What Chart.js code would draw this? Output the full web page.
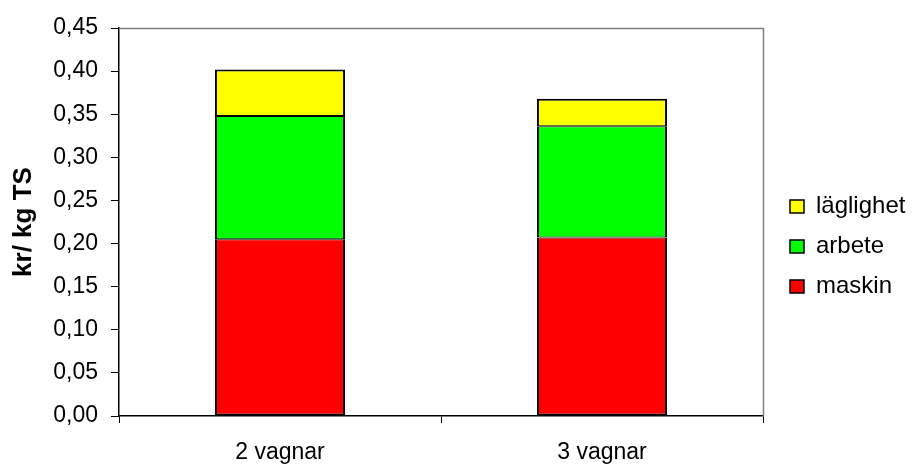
<!DOCTYPE html>
<html>
<head>
<meta charset="utf-8">
<script src="https://cdn.jsdelivr.net/npm/chart.js@4/dist/chart.umd.min.js"></script>
<style>
  html, body { margin: 0; padding: 0; background: #fff; }
  #wrap { width: 912px; height: 465px; }
</style>
</head>
<body>
<div id="wrap"><canvas id="costChart" width="912" height="465"></canvas></div>
<script>
const categories = ['2 vagnar', '3 vagnar'];
const maskin = [0.205, 0.207];
const arbete = [0.143, 0.129];
const laglighet = [0.054, 0.032];
const yTicks = [0, 0.05, 0.1, 0.15, 0.2, 0.25, 0.3, 0.35, 0.4, 0.45];

const fontFamily = 'Arial, "Liberation Sans", sans-serif';
Chart.defaults.font.family = fontFamily;
Chart.defaults.color = '#000';

const barPercentage = 0.404;

// grey frame on top and right of the plot area
const plotFrame = {
  id: 'plotFrame',
  beforeDatasetsDraw(chart) {
    const { ctx, chartArea } = chart;
    ctx.save();
    ctx.strokeStyle = '#808080';
    ctx.lineWidth = 1.5;
    ctx.beginPath();
    ctx.moveTo(chartArea.left, chartArea.top + 0.5);
    ctx.lineTo(chartArea.right + 0.5, chartArea.top + 0.5);
    ctx.lineTo(chartArea.right + 0.5, chartArea.bottom);
    ctx.stroke();
    ctx.restore();
  },
};

const legendFit = {
  id: 'legendFit',
  afterInit(chart) {
    const legend = chart.legend;
    const orig = legend.fit;
    legend.fit = function () {
      orig.call(this);
      this.width = 149;
    };
  },
  afterLayout(chart) {
    chart.legend.left += 11;
  },
};

const costChart = new Chart(document.getElementById('costChart').getContext('2d'), {
  type: 'bar',
  data: {
    labels: categories,
    datasets: [
      {
        label: 'maskin',
        data: maskin,
        backgroundColor: '#FF0000',
        borderColor: '#000',
        borderWidth: { top: 1, bottom: 2, left: 2, right: 2 },
        borderSkipped: false,
        barPercentage,
        categoryPercentage: 1,
      },
      {
        label: 'arbete',
        data: arbete,
        backgroundColor: '#00FF00',
        borderColor: '#000',
        borderWidth: { top: 1, bottom: 1, left: 2, right: 2 },
        borderSkipped: false,
        barPercentage,
        categoryPercentage: 1,
      },
      {
        label: 'läglighet',
        data: laglighet,
        backgroundColor: '#FFFF00',
        borderColor: '#000',
        borderWidth: { top: 2, bottom: 1, left: 2, right: 2 },
        borderSkipped: false,
        barPercentage,
        categoryPercentage: 1,
      },
    ],
  },
  options: {
    responsive: false,
    animation: false,
    layout: { padding: { top: 28, right: 0, left: 0, bottom: 0 } },
    plugins: {
      tooltip: { enabled: false },
      legend: {
        position: 'right',
        reverse: true,
        labels: {
          boxWidth: 14,
          boxHeight: 13,
          padding: 16,
          font: { size: 24 },
          color: '#000',
          generateLabels(chart) {
            const items = Chart.defaults.plugins.legend.labels.generateLabels(chart);
            items.forEach(item => { item.lineWidth = 1.5; });
            return items;
          },
        },
      },
    },
    scales: {
      x: {
        stacked: true,
        grid: {
          offset: true,
          drawOnChartArea: false,
          drawTicks: true,
          tickLength: 7,
          color: '#000',
        },
        border: { color: '#000', width: 1.5 },
        ticks: { font: { size: 23 }, padding: 16, color: '#000' },
        afterFit(scale) {
          scale.height = 49;
        },
      },
      y: {
        stacked: true,
        min: 0,
        max: 0.45,
        afterBuildTicks(scale) {
          scale.ticks = yTicks.map(v => ({ value: v }));
        },
        grid: {
          drawOnChartArea: false,
          drawTicks: true,
          tickLength: 8,
          color: '#000',
        },
        border: { color: '#000', width: 1.5 },
        ticks: {
          font: { size: 23 },
          padding: 13,
          color: '#000',
          callback: v => v.toFixed(2).replace('.', ','),
        },
        title: {
          display: true,
          text: 'kr/ kg TS',
          font: { size: 26, weight: 'bold' },
          padding: { top: 8, bottom: 0 },
          color: '#000',
        },
        afterFit(scale) {
          scale.width = 119;
        },
      },
    },
  },
  plugins: [plotFrame, legendFit],
});
</script>
</body>
</html>
